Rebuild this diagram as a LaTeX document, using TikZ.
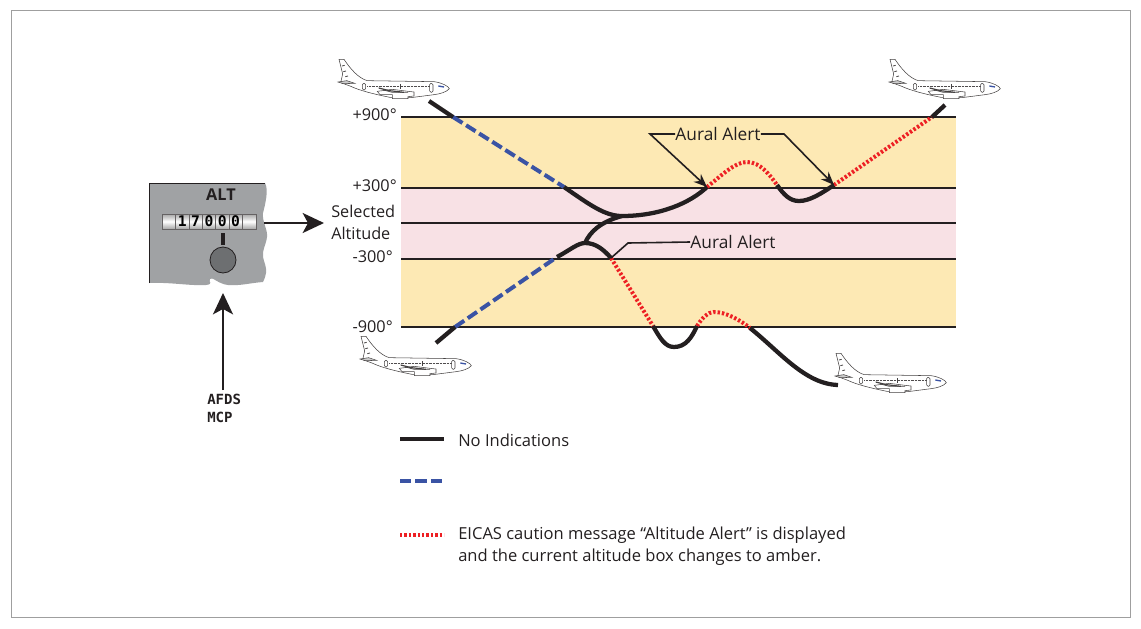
\documentclass[tikz,border=0pt]{standalone}
\usepackage{fontspec}
\setmainfont{Open Sans}
\newfontfamily\monoface{DejaVu Sans Mono}
\usetikzlibrary{arrows.meta}
\definecolor{inkblack}{HTML}{231F20}
\definecolor{bandyellow}{HTML}{FDE9B4}
\definecolor{bandpink}{HTML}{F8E1E5}
\definecolor{dashblue}{HTML}{3A53A4}
\definecolor{dotred}{HTML}{ED2024}
\definecolor{panelgray}{HTML}{A0A2A4}
\definecolor{knobgray}{HTML}{6D6F71}
\tikzset{
  level/.style={draw=inkblack,line width=1.5pt},
  quiet/.style={draw=inkblack,line width=3.2pt},
  armed/.style={draw=dashblue,line width=3pt,dash pattern=on 8.4pt off 3.2pt},
  caution/.style={draw=dotred,line width=3pt,dash pattern=on 1.8pt off 1.5pt},
  leader/.style={draw=inkblack,line width=1.2pt},
  alertarrow/.style={leader,-{Stealth[length=10pt,width=8pt]}},
  bigarrow/.style={draw=inkblack,line width=1.6pt,-{Stealth[length=16pt,width=15pt,inset=4pt]}},
  lbl/.style={font=\fontsize{12.2}{15}\selectfont,text=inkblack,inner sep=0pt},
  callout/.style={font=\fontsize{13}{15}\selectfont,text=inkblack,inner sep=0pt},
  keytext/.style={font=\fontsize{12.4}{16.5}\selectfont,text=inkblack,inner sep=0pt},
  monolbl/.style={font=\monoface\bfseries\fontsize{10.5}{13.5}\selectfont,text=inkblack,inner sep=0pt},
  cell/.style={minimum width=10pt,minimum height=11.25pt,inner sep=0pt,draw=inkblack!70,line width=.4pt,
     top color=gray!70,bottom color=gray!70,middle color=white,
     font=\monoface\bfseries\fontsize{11}{12}\selectfont},
  airliner/.pic={
    \begin{scope}[x=.25pt,y=-.25pt,line width=.4pt,draw=inkblack!85]
      % fuselage and fin
      \draw[fill=white] (27,28) -- (42,28) .. controls (60,55) and (85,85) .. (112,92)
        -- (312,95) .. controls (335,98) and (355,108) .. (358,116)
        .. controls (350,126) and (330,132) .. (312,134) -- (242,143) -- (180,142)
        .. controls (130,132) and (90,122) .. (60,108) -- (32,98) -- (38,72) -- cycle;
      % tailplane
      \draw[fill=gray!40] (24,96) -- (50,92) -- (74,100) -- (40,101) -- cycle;
      % doors
      \draw[fill=white,rounded corners=1pt] (97,100) rectangle (107,120);
      \draw[fill=white,rounded corners=1pt] (299,100) rectangle (309,127);
      % cabin windows
      \draw[line width=1.1pt,dash pattern=on .8pt off .25pt,draw=inkblack!80] (112,110) -- (297,110);
      % wing, engine and landing gear fairing
      \draw[fill=white] (142,124) -- (187,118) -- (234,124) -- (252,126) -- (252,138) -- (234,140) -- (234,146) -- (187,146) -- (187,134) -- (150,134) -- cycle;
      \draw[line width=.9pt] (146,114) -- (178,122) -- (222,127);
      \draw[line width=.5pt] (160,120) -- (187,127) (187,127) -- (234,127);
      \draw[line width=.6pt] (210,103) -- (210,116);
      % fin marks
      \draw[line width=.6pt] (36,48) -- (44,46) (40,65) -- (48,63) (46,80) -- (54,78);
      % cockpit window
      \draw[draw=dashblue,line width=1pt] (325,108) -- (342,111);
    \end{scope}
  }
}
\begin{document}
\begin{tikzpicture}[x=.75pt,y=-.75pt]
\useasboundingbox (0,0) rectangle (1141,628);
\draw[draw=gray!75,line width=.7pt] (11,10.5) rectangle (1130,617);

% altitude bands
\fill[bandyellow] (401,117) rectangle (956,327);
\fill[bandpink] (401,188) rectangle (956,259);
\foreach \yy in {117,188,223,259,327}
  \draw[level] (401,\yy) -- (956,\yy);

% waypoints shared by the altitude profiles
\coordinate (tlStart) at (429,101);
\coordinate (tlIn) at (453,117);
\coordinate (tlBand) at (564,187);
\coordinate (merge) at (622,216);
\coordinate (alertA) at (707,187);
\coordinate (reEnter) at (777,185);
\coordinate (alertB) at (834,185);
\coordinate (trOut) at (932,117);
\coordinate (trEnd) at (945,105);
\coordinate (blStart) at (436,343);
\coordinate (blIn) at (455,327);
\coordinate (blBand) at (557,257);
\coordinate (hump) at (585,243);
\coordinate (alertC) at (611,258);
\coordinate (lowIn) at (653,326);
\coordinate (lowOut) at (697,326);
\coordinate (lowBack) at (750,328);
\coordinate (brEnd) at (838,385);

% armed segments
\draw[armed] (tlIn) -- (tlBand);
\draw[armed] (blIn) -- (blBand);

% caution segments
\draw[caution] (alertA) .. controls (722,175) and (735,162) .. (747,162) .. controls (760,162) and (770,175) .. (reEnter);
\draw[caution] (alertB) -- (trOut);
\draw[caution] (alertC) -- (lowIn);
\draw[caution] (lowOut) .. controls (702,318) and (708,312) .. (714,312) .. controls (726,312) and (740,320) .. (lowBack);

% quiet segments
\draw[quiet] (tlStart) -- (tlIn);
\draw[quiet] (trOut) -- (trEnd);
\draw[quiet] (blStart) -- (blIn);
\draw[quiet] (tlBand) .. controls (590,205) and (605,216) .. (merge) .. controls (660,216) and (690,203) .. (alertA);
\draw[quiet] (merge) .. controls (600,222) and (590,232) .. (hump);
\draw[quiet] (blBand) .. controls (570,250) and (578,243) .. (hump) .. controls (596,243) and (604,250) .. (alertC);
\draw[quiet] (reEnter) .. controls (784,195) and (790,201) .. (799,201) .. controls (810,201) and (822,193) .. (alertB);
\draw[quiet] (lowIn) .. controls (660,338) and (665,347) .. (674,347) .. controls (686,347) and (692,337) .. (lowOut);
\draw[quiet] (lowBack) .. controls (780,352) and (805,384) .. (brEnd);

% aircraft
\pic at (330,50) {airliner};
\pic at (881,50) {airliner};
\pic at (352,327) {airliner};
\pic at (827,344) {airliner};

% altitude labels
\node[lbl,anchor=east] (p900) at (397,115) {+900°};
\node[lbl,anchor=east] (p300) at (397,186) {+300°};
\node[lbl,anchor=west] (selA) at (331,211) {Selected};
\node[lbl,anchor=west] (selB) at (331,233) {Altitude};
\node[lbl,anchor=east] (m300) at (393,257) {-300°};
\node[lbl,anchor=east] (m900) at (393,327) {-900°};

% aural alert callouts
\node[callout] (auralTop) at (718,134) {Aural Alert};
\node[callout] (auralLow) at (733,242) {Aural Alert};
\coordinate (kneeL) at (650,134);
\coordinate (kneeR) at (784,134);
\coordinate (kneeC) at (628,243);
\draw[alertarrow] (auralTop.west) -- (kneeL) -- (alertA);
\draw[alertarrow] (auralTop.east) -- (kneeR) -- (alertB);
\draw[leader] (auralLow.west) -- (kneeC) -- (alertC);

% altitude selector panel
\draw[draw=none,fill=panelgray] (149,183) -- (265,183) .. controls (269,190) and (265,205) .. (263,213)
  .. controls (262,222) and (268,230) .. (267,237) .. controls (266,245) and (262,250) .. (263,257)
  .. controls (264,262) and (267,268) .. (266,273) .. controls (265,278) and (264,280) .. (263,282)
  .. controls (250,283) and (240,286) .. (228,285) .. controls (218,284) and (212,276) .. (210,279)
  .. controls (208,282) and (214,284) .. (206,285) .. controls (190,286) and (170,282) .. (149,283) -- cycle;
\draw[draw=inkblack,line width=.6pt] (149,283) -- (149,183) -- (265,183);
\node[font=\bfseries\fontsize{12.2}{15}\selectfont,text=inkblack,inner sep=0pt] (altTitle) at (221,195) {ALT};
\node[cell,minimum width=10.3pt] (capL) at (168.8,221.5) {};
\node[cell,minimum width=10.3pt] (capR) at (249.2,221.5) {};
\foreach \dg [count=\k from 0] in {1,7,0,0,0}
  \node[cell] (dg\k) at ({182.3+\k*13.33},221.5) {\dg};
\draw[draw=inkblack,line width=2.6pt] (223,233) -- (223,245);
\node[circle,draw=inkblack,line width=.6pt,fill=knobgray,minimum size=19.5pt,inner sep=0pt] (knob) at (223,260) {};

% panel connectors
\coordinate (panelOut) at (264,223);
\coordinate (selIn) at (324,223);
\draw[bigarrow] (panelOut) -- (selIn);
\node[monolbl,anchor=north west,align=left] (mcp) at (207,393.5) {AFDS\\MCP};
\coordinate (panelFoot) at (223,293);
\coordinate (mcpTop) at (223,390);
\draw[bigarrow] (mcpTop) -- (panelFoot);

% legend
\coordinate (kA) at (400,439); \coordinate (kAe) at (444,439);
\coordinate (kB) at (400,481); \coordinate (kBe) at (444,481);
\coordinate (kC) at (400,535); \coordinate (kCe) at (444,535);
\draw[quiet] (kA) -- (kAe);
\draw[armed] (kB) -- (kBe);
\draw[caution] (kC) -- (kCe);
\node[keytext,anchor=west] (keyA) at (458,440) {No Indications};
\node[keytext,anchor=north west,align=left] (keyC) at (458,527) {EICAS caution message “Altitude Alert” is displayed\\and the current altitude box changes to amber.};
\end{tikzpicture}
\end{document}
